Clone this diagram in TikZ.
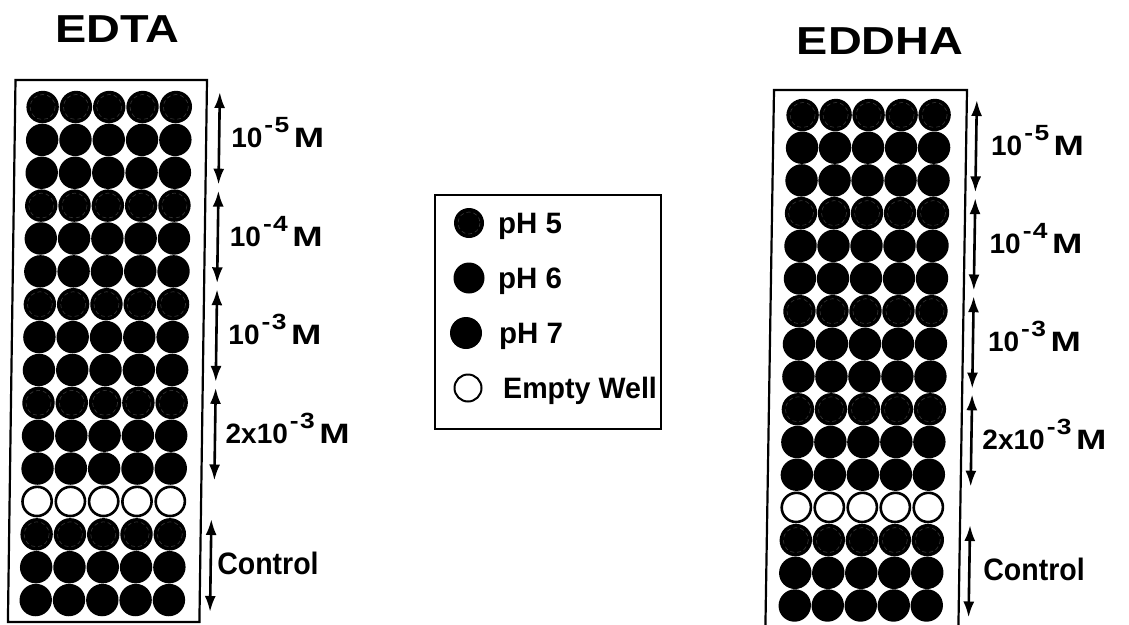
\documentclass[tikz,border=0pt]{standalone}
\usepackage{fontspec}
\setmainfont{Liberation Sans}
\usetikzlibrary{arrows.meta}

% concentration label with a raised exponent, e.g. 10^{-5} M
\newcommand\expo[1]{\hspace{2pt}\raisebox{15pt}{\fontsize{22}{22}\selectfont\scalebox{1.2}[1]{-\hspace{1.2pt}#1}}\hspace{4.5pt}\scalebox{1.3}[1]{M}}

\begin{document}
\begin{tikzpicture}[x=1pt,y=-1pt,
  plate/.style={draw=black,line width=2.2pt},
  well/.style={fill=black},
  emptywell/.style={draw=black,line width=2.6pt,fill=white},
  ring/.style={draw=black!78,line width=0.6pt,dash pattern=on 4pt off 3pt},
  span/.style={line width=2.6pt,{Latex[length=16pt,width=11pt]}-{Latex[length=16pt,width=11pt]}},
  conc/.style={anchor=base west,font=\bfseries\fontsize{28}{28}\selectfont,inner sep=0pt},
  ctrl/.style={anchor=base west,font=\bfseries\fontsize{31}{31}\selectfont,inner sep=0pt},
  title/.style={font=\bfseries\fontsize{39}{39}\selectfont,inner sep=0pt},
  legtext/.style={anchor=base west,font=\bfseries\fontsize{29.5}{29.5}\selectfont,inner sep=0pt},
  legbox/.style={draw=black,line width=2pt}
]
\clip (0,0) rectangle (1129,624);

% ---------------- titles ----------------
\node[title] (tedta) at (117.5,29.5) {\scalebox{1.2}[1]{EDTA}};
\node[title] (teddha) at (880,41) {\scalebox{1.2}[1]{EDDHA}};

% ---------------- EDTA plate ----------------
\begin{scope}[shift={(15.5,80)},xslant=0.014]
  \draw[plate] (0,0) rectangle (191.5,542);
  \foreach \i in {0,...,15}{
    \foreach \j in {0,...,4}{
      \pgfmathsetmacro\cx{27.5+33.3*\j}
      \pgfmathsetmacro\cy{27+32.87*\i}
      \ifnum\i=12
        \draw[emptywell] (\cx,\cy) circle (14.6);
      \else
        \fill[well] (\cx,\cy) circle (16.2);
      \fi
    }
  }
  % faint rims of the pH 5 rows
  \foreach \i in {0,3,6,9,13}{
    \foreach \j in {0,...,4}{
      \pgfmathsetmacro\cx{27.5+33.3*\j}
      \pgfmathsetmacro\cy{27+32.87*\i}
      \draw[ring] (\cx,\cy) circle (12.5);
    }
  }
  % concentration ranges
  \coordinate (la1) at (204.5,12);    \coordinate (lb1) at (204.5,104.7);
  \coordinate (la2) at (204.5,110.6); \coordinate (lb2) at (204.5,203.3);
  \coordinate (la3) at (204.5,209.2); \coordinate (lb3) at (204.5,301.9);
  \coordinate (la4) at (204.5,307.8); \coordinate (lb4) at (204.5,400.5);
  \coordinate (la5) at (202,439);     \coordinate (lb5) at (202,532);
  \foreach \k in {1,...,5}{\draw[span] (la\k) -- (lb\k);}
  \node[conc] (lc1) at (216.5,67.3)  {10\expo{5}};
  \node[conc] (lc2) at (216.5,166)   {10\expo{4}};
  \node[conc] (lc3) at (216.5,264.5) {10\expo{3}};
  \node[conc] (lc4) at (215,363)     {2x10\expo{3}};
  \node[ctrl] (lc5) at (208.5,494.5) {\scalebox{0.92}[1]{Control}};
\end{scope}

% ---------------- EDDHA plate ----------------
\begin{scope}[shift={(774,90)},xslant=0.016]
  \draw[plate] (0,0) rectangle (193,560);
  \foreach \i in {0,...,15}{
    \foreach \j in {0,...,4}{
      \pgfmathsetmacro\cx{29+33*\j}
      \pgfmathsetmacro\cy{25+32.7*\i}
      \ifnum\i=12
        \draw[emptywell] (\cx,\cy) circle (14.6);
      \else
        \fill[well] (\cx,\cy) circle (16.2);
      \fi
    }
  }
  \foreach \i in {0,3,6,9,13}{
    \foreach \j in {0,...,4}{
      \pgfmathsetmacro\cx{29+33*\j}
      \pgfmathsetmacro\cy{25+32.7*\i}
      \draw[ring] (\cx,\cy) circle (12.5);
    }
  }
  \coordinate (ra1) at (203,10);    \coordinate (rb1) at (203,102.4);
  \coordinate (ra2) at (203,108.1); \coordinate (rb2) at (203,200.5);
  \coordinate (ra3) at (203,206.2); \coordinate (rb3) at (203,298.6);
  \coordinate (ra4) at (203,304.3); \coordinate (rb4) at (203,396.7);
  \coordinate (ra5) at (203,435);   \coordinate (rb5) at (203,527.5);
  \foreach \k in {1,...,5}{\draw[span] (ra\k) -- (rb\k);}
  \node[conc] (rc1) at (218,65)  {10\expo{5}};
  \node[conc] (rc2) at (218,163) {10\expo{4}};
  \node[conc] (rc3) at (218,261) {10\expo{3}};
  \node[conc] (rc4) at (214,359) {2x10\expo{3}};
  \node[ctrl] (rc5) at (217,490) {\scalebox{0.92}[1]{Control}};
\end{scope}

% ---------------- legend ----------------
\draw[legbox] (435,195) rectangle (661,429);
\fill[well] (469,223) circle (15);
\draw[ring] (469,223) circle (11);
\fill[well] (469,278) circle (15.5);
\fill[well] (466,333) circle (16);
\draw[emptywell,line width=2pt] (468,388) circle (13.5);
\node[legtext] (l5) at (498,233) {pH 5};
\node[legtext] (l6) at (498,288) {pH 6};
\node[legtext] (l7) at (499,343) {pH 7};
\node[legtext] (le) at (503,398) {\scalebox{0.97}[1]{Empty Well}};
\end{tikzpicture}
\end{document}
